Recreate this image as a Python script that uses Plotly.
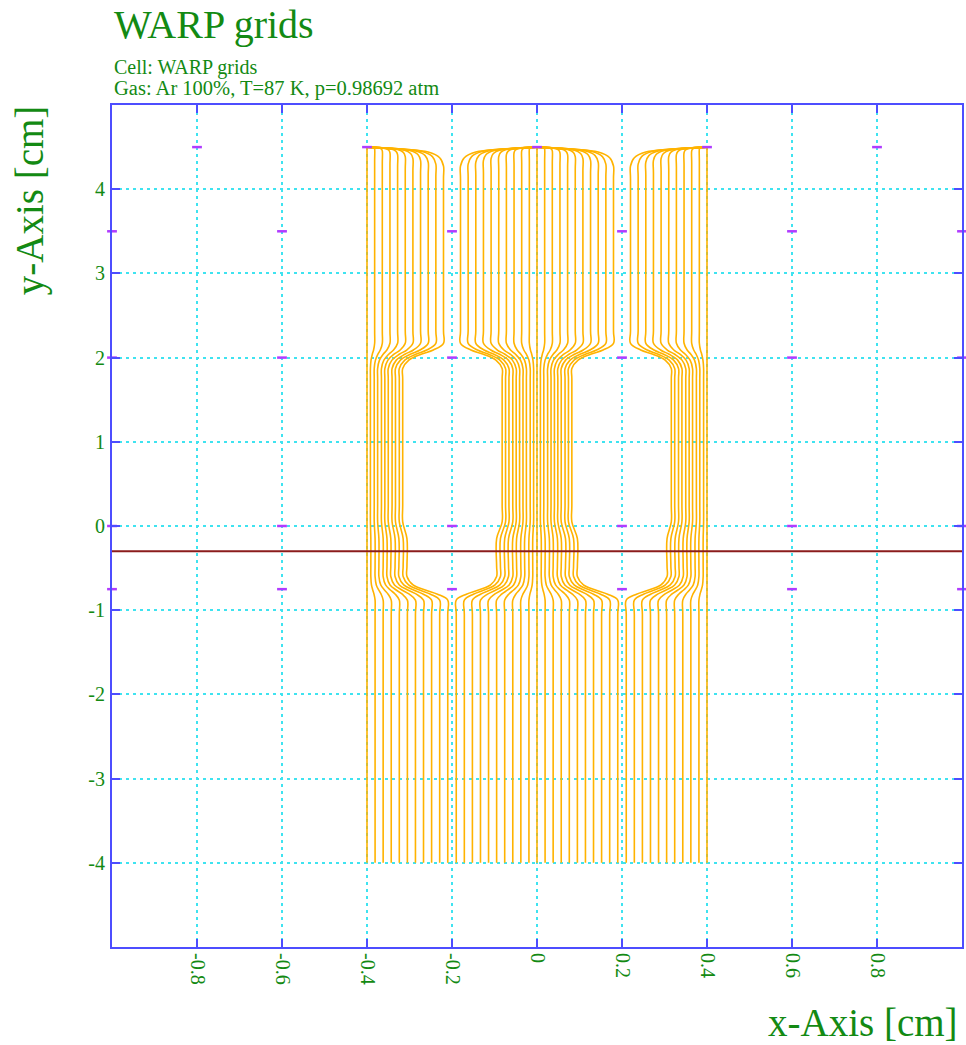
import plotly.graph_objects as go

# ---------------- data ----------------
x_ticks = [-0.8, -0.6, -0.4, -0.2, 0.0, 0.2, 0.4, 0.6, 0.8]
x_tick_text = ["-0.8", "-0.6", "-0.4", "-0.2", "0", "0.2", "0.4", "0.6", "0.8"]
y_ticks = [-4, -3, -2, -1, 0, 1, 2, 3, 4]
y_tick_text = ["-4", "-3", "-2", "-1", "0", "1", "2", "3", "4"]
x_range = [-1.0, 1.0]
y_range = [-5.0, 5.0]

# drift lines: start x at y=-4 (bottom)
x_start = [-0.400, -0.381, -0.362, -0.343, -0.324, -0.305, -0.286, -0.267, -0.248, -0.229, -0.210,
           -0.190, -0.171, -0.152, -0.133, -0.114, -0.095, -0.076, -0.057, -0.038, -0.019, 0.000,
           0.019, 0.038, 0.057, 0.076, 0.095, 0.114, 0.133, 0.152, 0.171, 0.190,
           0.210, 0.229, 0.248, 0.267, 0.286, 0.305, 0.324, 0.343, 0.362, 0.381, 0.400]
# x of each line between the grid planes at y=-0.75 and y=0 (bulge)
x_bulge = [-0.400, -0.391, -0.381, -0.372, -0.362, -0.353, -0.344, -0.334, -0.325, -0.315, -0.306,
           -0.095, -0.086, -0.076, -0.067, -0.057, -0.048, -0.038, -0.029, -0.019, -0.010, 0.000,
           0.010, 0.019, 0.029, 0.038, 0.048, 0.057, 0.067, 0.076, 0.086, 0.095,
           0.306, 0.315, 0.325, 0.334, 0.344, 0.353, 0.362, 0.372, 0.381, 0.391, 0.400]
# x of each line in the bundles between y=0 and y=2
x_bundle = [-0.400, -0.392, -0.383, -0.375, -0.366, -0.358, -0.350, -0.341, -0.333, -0.324, -0.316,
            -0.082, -0.074, -0.066, -0.057, -0.049, -0.041, -0.033, -0.025, -0.016, -0.008, 0.000,
            0.008, 0.016, 0.025, 0.033, 0.041, 0.049, 0.057, 0.066, 0.074, 0.082,
            0.316, 0.324, 0.333, 0.341, 0.350, 0.358, 0.366, 0.375, 0.383, 0.392, 0.400]
# x of each line in the upper drift region (y 2.2 .. 4.3)
x_top = [-0.400, -0.382, -0.364, -0.346, -0.328, -0.310, -0.292, -0.274, -0.256, -0.238, -0.220,
         -0.180, -0.162, -0.144, -0.126, -0.108, -0.090, -0.072, -0.054, -0.036, -0.018, 0.000,
         0.018, 0.036, 0.054, 0.072, 0.090, 0.108, 0.126, 0.144, 0.162, 0.180,
         0.220, 0.238, 0.256, 0.274, 0.292, 0.310, 0.328, 0.346, 0.364, 0.382, 0.400]
# anode wire where each line ends (y=4.5)
x_end = [-0.4] * 11 + [0.0] * 21 + [0.4] * 11
y_start = -4.0
y_anode = 4.5

# wires (magenta marks)
wire_rows_y = [4.5, 3.5, 2.0, 0.0, -0.75]
wire_rows_x = [
    [-0.8, -0.4, 0.0, 0.4, 0.8],
    [-1.0, -0.6, -0.2, 0.2, 0.6, 1.0],
    [-1.0, -0.6, -0.2, 0.2, 0.6, 1.0],
    [-1.0, -0.6, -0.2, 0.2, 0.6, 1.0],
    [-1.0, -0.6, -0.2, 0.2, 0.6, 1.0],
]
cut_y = -0.3

# ---------------- build drift-line key points ----------------
xs, ys = [], []
for x0, xbb, xb, xt, xw in zip(x_start, x_bulge, x_bundle, x_top, x_end):
    d0 = xbb - x0
    d1 = xt - xb
    pts = [
        (x0, y_start), (x0, -1.05), (x0, -0.88),
        (x0 + 0.25 * d0, -0.81), (x0 + 0.55 * d0, -0.76), (x0 + 0.85 * d0, -0.70),
        (xbb, -0.60), (xbb, -0.48), (xbb, -0.15),
        (xb, 0.05), (xb, 0.25), (xb, 1.75), (xb, 1.87),
        (xb + 0.15 * d1, 1.97), (xb + 0.45 * d1, 2.04), (xb + 0.75 * d1, 2.09),
        (xt, 2.17), (xt, 2.32),
    ]
    dx = xw - xt
    d = abs(dx)
    if d > 1e-9:
        yc = y_anode - 1.25 * d
        pts += [
            (xt, yc - 0.15), (xt, yc),
            (xt + 0.05 * dx, y_anode - 0.70 * d),
            (xt + 0.20 * dx, y_anode - 0.33 * d),
            (xt + 0.55 * dx, y_anode - 0.13 * d),
            (xw, y_anode),
        ]
    else:
        pts += [(xt, 4.0), (xw, y_anode)]
    for px, py in pts:
        xs.append(px)
        ys.append(py)
    xs.append(None)
    ys.append(None)

GREEN = "#138a13"
BLUE = "#4d4dff"
GRID = "#3fe3f0"
FONT = "Liberation Serif"

fig = go.Figure()
fig.add_trace(go.Scatter(
    x=xs, y=ys, mode="lines",
    line=dict(color="#ffb300", width=1.6, shape="spline", smoothing=1.0),
    hoverinfo="skip",
))
fig.add_trace(go.Scatter(
    x=x_range, y=[cut_y, cut_y], mode="lines",
    line=dict(color="#8b1c1c", width=1.8),
    hoverinfo="skip",
))
wx, wy = [], []
for yy, row in zip(wire_rows_y, wire_rows_x):
    for xx in row:
        wx.append(xx)
        wy.append(yy)
fig.add_trace(go.Scatter(
    x=wx, y=wy, mode="markers",
    marker=dict(symbol="line-ew", size=7, line=dict(color="#b03cff", width=2.5)),
    cliponaxis=False, hoverinfo="skip",
))

axis_common = dict(
    ticks="inside", ticklen=8, tickwidth=2, tickcolor=BLUE,
    showline=True, linecolor=BLUE, linewidth=2, mirror="ticks",
    showgrid=True, gridcolor=GRID, griddash="3px,4px", gridwidth=1.5,
    zeroline=False,
    tickfont=dict(family=FONT, size=20, color=GREEN),
)
fig.update_xaxes(range=x_range, tickmode="array", tickvals=x_ticks, ticktext=x_tick_text,
                 tickangle=90, ticklabelstandoff=0, **axis_common)
fig.update_yaxes(range=y_range, tickmode="array", tickvals=y_ticks, ticktext=y_tick_text,
                 ticklabelstandoff=1, **axis_common)

W, H = 966, 1045
ML, MT = 112, 105
pw, ph = 852, 842
MR = W - ML - pw
MB = H - MT - ph


def px2paper(px, py):
    return (px - ML) / pw, (MT + ph - py) / ph


annots = []
tx, ty = px2paper(112, 25)
annots.append(dict(text="WARP grids", x=tx, y=ty, xanchor="left", yanchor="middle",
                   font=dict(family=FONT, size=40, color=GREEN)))
tx, ty = px2paper(112, 68)
annots.append(dict(text="Cell: WARP grids", x=tx, y=ty, xanchor="left", yanchor="middle",
                   font=dict(family=FONT, size=20, color=GREEN)))
tx, ty = px2paper(112, 89)
annots.append(dict(text="Gas: Ar 100%, T=87 K, p=0.98692 atm", x=tx, y=ty, xanchor="left",
                   yanchor="middle", font=dict(family=FONT, size=20.5, color=GREEN)))
tx, ty = px2paper(30, 200)
annots.append(dict(text="y-Axis [cm]", x=tx, y=ty, xanchor="center", yanchor="middle",
                   textangle=-90, font=dict(family=FONT, size=39, color=GREEN)))
tx, ty = px2paper(865, 1022)
annots.append(dict(text="x-Axis [cm]", x=tx, y=ty, xanchor="center", yanchor="middle",
                   font=dict(family=FONT, size=39, color=GREEN)))
for a in annots:
    a.update(xref="paper", yref="paper", showarrow=False)

fig.update_layout(
    width=W, height=H,
    margin=dict(l=ML, r=MR, t=MT, b=MB),
    plot_bgcolor="white", paper_bgcolor="white",
    showlegend=False,
    annotations=annots,
)

# remove the page's default body margin so the figure fills the window exactly
fig.write_html("out.html",
               config={"displayModeBar": False},
               post_script="document.body.style.margin='0px';document.body.style.overflow='hidden';")
